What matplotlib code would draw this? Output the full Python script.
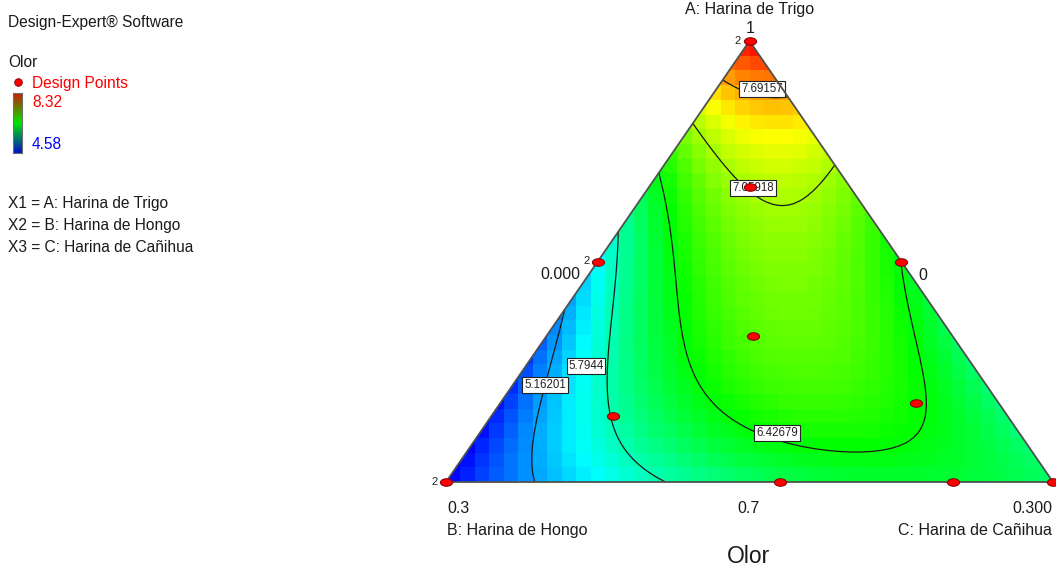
import numpy as np
import matplotlib
matplotlib.use("Agg")
import matplotlib.pyplot as plt
import matplotlib.tri as mtri
from matplotlib.colors import LinearSegmentedColormap, Normalize
from matplotlib.path import Path
from matplotlib.patches import Polygon
from matplotlib.transforms import Affine2D

plt.rcParams["font.family"] = ["Liberation Sans", "DejaVu Sans"]

# special cubic mixture model for Olor, components A, B, C
linear_coef = [8.32, 4.58, 6.10]      # A, B, C
pair_coef = [-3.70, -3.15, 2.88]      # AB, AC, BC
abc_coef = 23.0
resp_min, resp_max = 4.58, 8.32
contour_levels = [5.16201, 5.7944, 6.42679, 7.05918, 7.69157]

# design points (fractions of A, B, C) and replicate counts
pts_A = [1.00, 0.67, 0.50, 0.50, 0.33, 0.15, 0.18, 0.00, 0.00, 0.00, 0.00]
pts_B = [0.00, 0.165, 0.50, 0.00, 0.33, 0.65, 0.135, 1.00, 0.45, 0.165, 0.00]
pts_C = [0.00, 0.165, 0.00, 0.50, 0.34, 0.20, 0.685, 0.00, 0.55, 0.835, 1.00]
replicates = [2, 1, 2, 1, 1, 1, 1, 2, 1, 1, 1]

components = ["A: Harina de Trigo", "B: Harina de Hongo", "C: Harina de Cañihua"]
response = "Olor"


def olor(a, b, c):
    return (linear_coef[0] * a + linear_coef[1] * b + linear_coef[2] * c
            + pair_coef[0] * a * b + pair_coef[1] * a * c + pair_coef[2] * b * c
            + abc_coef * a * b * c)


def to_xy(a, c):
    return np.asarray(c) + np.asarray(a) / 2, np.asarray(a)


W, H = 1056, 569
fig = plt.figure(figsize=(W / 100, H / 100), dpi=100)

field_cmap = LinearSegmentedColormap.from_list(
    "de", ["#0000ff", "#00ffff", "#00ff00", "#ffff00", "#ff0000"])
norm = Normalize(resp_min, resp_max)

# triangle axes: data (0,0)-(1,0)-(0.5,1)
ax = fig.add_axes([446 / W, (H - 482) / H, (1053 - 446) / W, (482 - 41) / H])
ax.set_xlim(0, 1)
ax.set_ylim(0, 1)
ax.axis("off")

tri_verts = [[0, 0], [1, 0], [0.5, 1]]
clip = Polygon(tri_verts, closed=True, transform=ax.transData)

nx, ny = 42, 30
xe = np.linspace(0, 1, nx + 1)
ye = np.linspace(0, 1, ny + 1)
Xc, Yc = np.meshgrid((xe[:-1] + xe[1:]) / 2, (ye[:-1] + ye[1:]) / 2)
Ac = Yc
Cc = Xc - Yc / 2
Bc = 1 - Ac - Cc
mesh = ax.pcolormesh(xe, ye, olor(Ac, Bc, Cc), cmap=field_cmap, norm=norm,
                     shading="flat")
mesh.set_clip_path(clip)

# contour lines on a barycentric lattice
n = 90
la, lc = [], []
for i in range(n + 1):
    for j in range(n + 1 - i):
        la.append(i / n)
        lc.append(j / n)
la, lc = np.array(la), np.array(lc)
lb = 1 - la - lc
tx, ty = to_xy(la, lc)
triang = mtri.Triangulation(tx, ty)
ax.tricontour(triang, olor(la, lb, lc), levels=contour_levels,
              colors="#1a1a1a", linewidths=0.9, zorder=3)

label_pos = [(0.163, 0.22), (0.2306, 0.263), (0.5453, 0.111),
             (0.5058, 0.667), (0.5206, 0.891)]
for lvl, (lx, ly) in zip(contour_levels, label_pos):
    ax.text(lx, ly, f"{lvl:g}", fontsize=8.3, ha="center", va="center", zorder=4,
            color="#222222",
            bbox=dict(boxstyle="square,pad=0.15", fc="white", ec="#222222", lw=0.8))

ax.add_patch(Polygon(tri_verts, closed=True, fill=False, ec="#505050", lw=1.3,
                     zorder=4, clip_on=False))

# design points
px, py = to_xy(pts_A, pts_C)
ell = Path.unit_circle().transformed(Affine2D().scale(1.0, 0.62))
ax.plot(px, py, ls="none", marker=ell, ms=8.8, mfc="#ff0000", mec="#7a0000",
        mew=0.7, clip_on=False, zorder=6)
for x, y, r in zip(px, py, replicates):
    if r > 1:
        ax.annotate(str(r), (x, y), xytext=(-8.3, 0), textcoords="offset points",
                    ha="center", va="center", fontsize=8, color="#222222",
                    annotation_clip=False)

# overlay in pixel coordinates for the texts
ov = fig.add_axes([0, 0, 1, 1], zorder=-1)
ov.set_xlim(0, W)
ov.set_ylim(H, 0)
ov.axis("off")
fs = 11.2
tc = "#1a1a1a"
ov.text(8, 27, "Design-Expert® Software", fontsize=fs, color=tc)
ov.text(8, 67, response, fontsize=fs, color=tc)
ov.plot([18], [82], marker="o", ms=5.5, mfc="#ff0000", mec="#7a0000", mew=0.6)
ov.text(32, 88, "Design Points", fontsize=fs, color="#ff0000")
ov.text(32, 107, f"{resp_max:.2f}", fontsize=fs, color="#ff0000")
ov.text(32, 149, f"{resp_min:.2f}", fontsize=fs, color="#0000ff")
for k, (y, name) in enumerate(zip([208, 230, 252], components)):
    ov.text(8, y, f"X{k + 1} = {name}", fontsize=fs, color=tc)

ov.text(750, 14, components[0], fontsize=11.5, ha="center", color=tc)
ov.text(750, 33, "1", fontsize=11.5, ha="center", color=tc)
ov.text(580, 279, "0.000", fontsize=11.5, ha="right", color=tc)
ov.text(918, 280, "0", fontsize=11.5, ha="left", color=tc)
ov.text(447, 513, "0.3", fontsize=11.5, ha="left", color=tc)
ov.text(447, 535, components[1], fontsize=11.5, ha="left", color=tc)
ov.text(749, 513, "0.7", fontsize=11.5, ha="center", color=tc)
ov.text(1052, 513, "0.300", fontsize=11.5, ha="right", color=tc)
ov.text(1052, 535, components[2], fontsize=11.5, ha="right", color=tc)
ov.text(749, 563, response, fontsize=16.5, ha="center", color=tc)

# legend colour bar
bar_cmap = LinearSegmentedColormap.from_list("bar", ["#0010c8", "#00e600", "#c81e00"])
cb = fig.add_axes([13 / W, (H - 153) / H, 9 / W, 60 / H])
cb.imshow(np.linspace(0, 1, 64)[:, None], aspect="auto", cmap=bar_cmap, origin="lower")
cb.set_xticks([])
cb.set_yticks([])
for s in cb.spines.values():
    s.set_color("#707070")
    s.set_linewidth(0.8)

fig.savefig("out.png", dpi=100)
